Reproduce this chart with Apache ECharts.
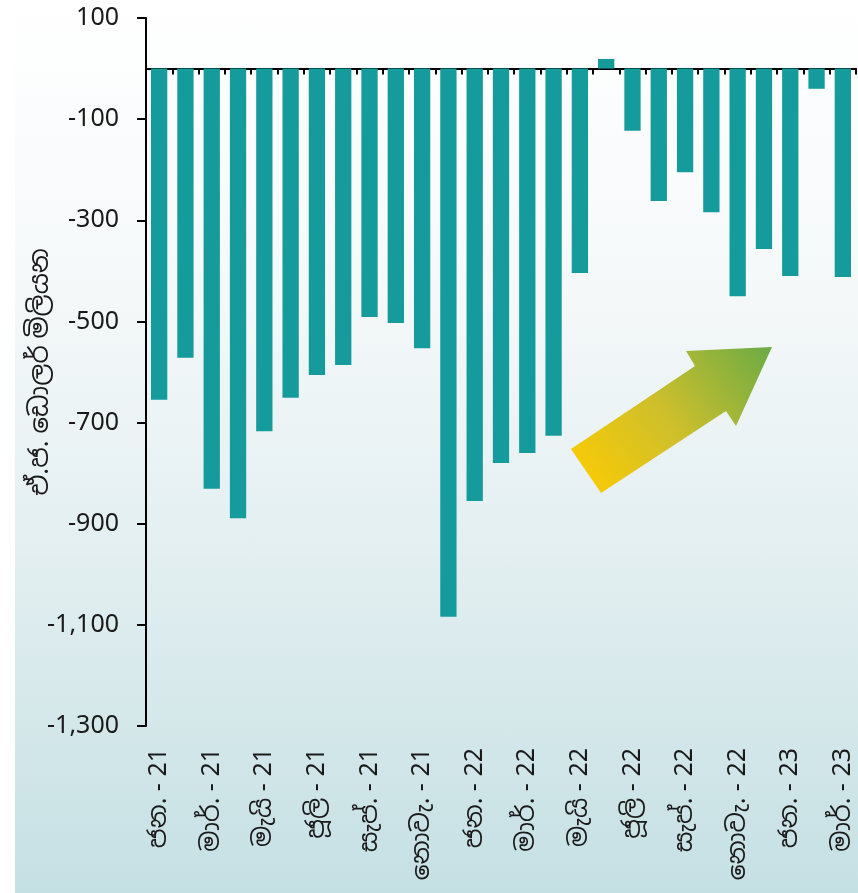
<!DOCTYPE html>
<html>
<head>
<meta charset="utf-8">
<script src="https://cdn.jsdelivr.net/npm/echarts@6/dist/echarts.min.js"></script>
<style>
  html, body { margin: 0; padding: 0; background: #ffffff; }
  .panel {
    position: absolute; left: 15px; top: 0; width: 843px; height: 893px;
    border-top-left-radius: 18px;
    background: linear-gradient(to bottom, #ffffff 0%, #f6f9fa 30%, #e3eff1 62%, #c5e0e3 100%);
  }
  #chart { position: absolute; left: 0; top: 0; width: 858px; height: 893px; }
</style>
</head>
<body>
<div class="panel"></div>
<div id="chart"></div>
<script>
  // මාසික දත්ත (ඒ.ජ. ඩොලර් මිලියන)
  const months = [
    'ජන. - 21', 'පෙබ. - 21', 'මාර්. - 21', 'අප්‍රේ. - 21', 'මැයි - 21', 'ජූනි - 21',
    'ජූලි - 21', 'අගෝ. - 21', 'සැප්. - 21', 'ඔක්. - 21', 'නොවැ. - 21', 'දෙසැ. - 21',
    'ජන. - 22', 'පෙබ. - 22', 'මාර්. - 22', 'අප්‍රේ. - 22', 'මැයි - 22', 'ජූනි - 22',
    'ජූලි - 22', 'අගෝ. - 22', 'සැප්. - 22', 'ඔක්. - 22', 'නොවැ. - 22', 'දෙසැ. - 22',
    'ජන. - 23', 'පෙබ. - 23', 'මාර්. - 23'
  ];
  const balance = [
    -655, -572, -831, -889, -717, -651, -606, -586, -491, -503, -553, -1084,
    -855, -780, -760, -726, -404, 19, -123, -262, -205, -284, -450, -357,
    -410, -40, -412
  ];
  const yTicks = { min: -1300, max: 100, interval: 200 };

  const font = '"Noto Sans", "Noto Sans Sinhala", "DejaVu Sans", sans-serif';
  const chart = echarts.init(document.getElementById('chart'));

  chart.setOption({
    backgroundColor: 'transparent',
    textStyle: { fontFamily: font },
    grid: { left: 146, right: 2, top: 18, bottom: 167 },
    xAxis: [
      {
        type: 'category',
        data: months,
        axisLine: { onZero: true, lineStyle: { color: '#000', width: 2 } },
        axisTick: { show: true, interval: 0, length: 6, lineStyle: { color: '#000', width: 2 } },
        axisLabel: { show: false }
      },
      {
        type: 'category',
        data: months,
        position: 'bottom',
        axisLine: { show: false },
        axisTick: { show: false },
        axisLabel: {
          interval: 1,
          rotate: 90,
          margin: 22,
          fontSize: 25,
          color: '#1a1a1a',
          fontFamily: font
        }
      }
    ],
    yAxis: {
      type: 'value',
      min: yTicks.min,
      max: yTicks.max,
      interval: yTicks.interval,
      name: 'ඒ.ජ. ඩොලර් මිලියන',
      nameLocation: 'middle',
      nameGap: 92,
      nameMoveOverlap: false,
      nameTextStyle: { fontSize: 26, color: '#1a1a1a', fontFamily: font },
      axisLine: { show: true, lineStyle: { color: '#000', width: 2 } },
      axisTick: { show: true, length: 9, lineStyle: { color: '#000', width: 2 } },
      axisLabel: {
        fontSize: 25,
        color: '#1a1a1a',
        margin: 27,
        fontFamily: font,
        formatter: v => v.toLocaleString('en-US')
      },
      splitLine: { show: false }
    },
    series: [
      {
        type: 'bar',
        data: balance,
        barCategoryGap: '38%',
        itemStyle: { color: '#169b9c' }
      }
    ],
    graphic: [
      {
        type: 'polygon',
        shape: {
          points: [[571, 449], [695, 366], [686, 351], [772, 347], [736, 426], [726, 411], [601, 493]]
        },
        style: {
          fill: new echarts.graphic.LinearGradient(0, 1, 1, 0, [
            { offset: 0, color: '#ffcc00' },
            { offset: 0.5, color: '#cdbf2c' },
            { offset: 1, color: '#6aab45' }
          ])
        }
      }
    ]
  });
</script>
</body>
</html>
